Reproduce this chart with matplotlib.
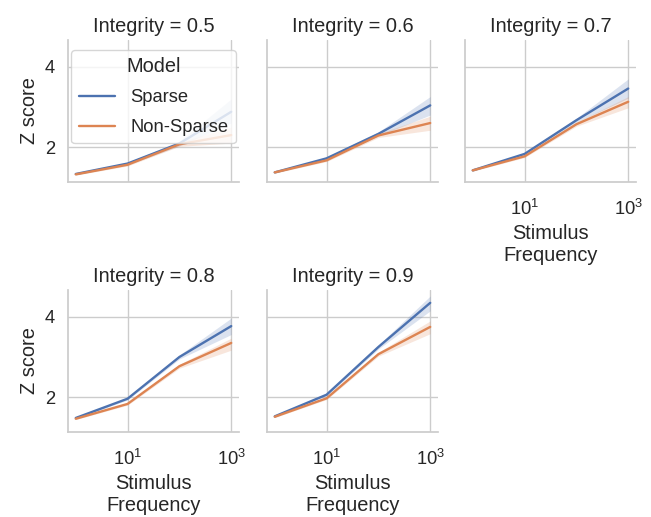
import matplotlib
matplotlib.use("Agg")
import matplotlib.pyplot as plt
import seaborn as sns

freq = [1, 10, 100, 1000]
integrity = [0.5, 0.6, 0.7, 0.8, 0.9]
models = ["Sparse", "Non-Sparse"]

# mean z score per integrity level
sparse_mean = [
    [1.33, 1.59, 2.09, 2.88],
    [1.37, 1.72, 2.33, 3.04],
    [1.42, 1.83, 2.67, 3.46],
    [1.48, 1.96, 3.00, 3.77],
    [1.52, 2.06, 3.25, 4.35],
]
nonsparse_mean = [
    [1.32, 1.56, 2.07, 2.30],
    [1.37, 1.67, 2.29, 2.60],
    [1.42, 1.77, 2.57, 3.13],
    [1.46, 1.83, 2.77, 3.35],
    [1.51, 1.97, 3.07, 3.75],
]
# 95% interval bounds
sparse_lo = [
    [1.31, 1.56, 2.03, 2.60],
    [1.35, 1.69, 2.28, 2.80],
    [1.40, 1.80, 2.62, 3.22],
    [1.46, 1.93, 2.95, 3.56],
    [1.50, 2.03, 3.20, 4.15],
]
sparse_hi = [
    [1.35, 1.62, 2.15, 3.20],
    [1.39, 1.75, 2.38, 3.26],
    [1.44, 1.86, 2.72, 3.70],
    [1.50, 1.99, 3.05, 3.97],
    [1.54, 2.09, 3.30, 4.52],
]
nonsparse_lo = [
    [1.30, 1.53, 2.02, 2.10],
    [1.35, 1.64, 2.24, 2.42],
    [1.40, 1.74, 2.52, 2.98],
    [1.44, 1.80, 2.72, 3.17],
    [1.49, 1.94, 3.02, 3.58],
]
nonsparse_hi = [
    [1.34, 1.59, 2.12, 2.50],
    [1.39, 1.70, 2.34, 2.77],
    [1.44, 1.80, 2.62, 3.26],
    [1.48, 1.86, 2.82, 3.47],
    [1.53, 2.00, 3.12, 3.90],
]

sns.set_theme(style="whitegrid", font_scale=1.2)
plt.rcParams["font.family"] = ["Liberation Sans", "DejaVu Sans"]
colors = sns.color_palette("deep")[:2]

W, H = 651, 517
fig = plt.figure(figsize=(W / 100, H / 100), dpi=100)

lefts = [68, 267, 465]
tops = [40, 290]
aw, ah = 171, 142

axes = []
for i, lev in enumerate(integrity):
    r, c = divmod(i, 3)
    ax = fig.add_axes([lefts[c] / W, 1 - (tops[r] + ah) / H, aw / W, ah / H])
    axes.append(ax)
    for m, mean, lo, hi, col in [
        (models[0], sparse_mean[i], sparse_lo[i], sparse_hi[i], colors[0]),
        (models[1], nonsparse_mean[i], nonsparse_lo[i], nonsparse_hi[i], colors[1]),
    ]:
        ax.fill_between(freq, lo, hi, color=col, alpha=0.2, linewidth=0)
        ax.plot(freq, mean, color=col, lw=1.7, label=m)
    ax.set_xscale("log")
    ax.set_xlim(10 ** -0.15, 10 ** 3.15)
    ax.set_ylim(1.13, 4.67)
    ax.set_xticks([10, 1000])
    ax.xaxis.set_minor_locator(matplotlib.ticker.NullLocator())
    ax.set_yticks([2, 4])
    ax.tick_params(axis="x", pad=6.5)
    ax.set_title(f"Integrity = {lev}")
    sns.despine(ax=ax)
    if c == 0:
        ax.set_ylabel("Z score")
    else:
        ax.tick_params(labelleft=False)
    if r == 1 or c == 2:
        ax.set_xlabel("Stimulus\nFrequency", labelpad=3)
    else:
        ax.tick_params(labelbottom=False)

axes[0].legend(title="Model", loc="upper left", bbox_to_anchor=(0.02, 0.93),
               borderaxespad=0, labelspacing=0.7)

fig.savefig("out.png", dpi=100)
